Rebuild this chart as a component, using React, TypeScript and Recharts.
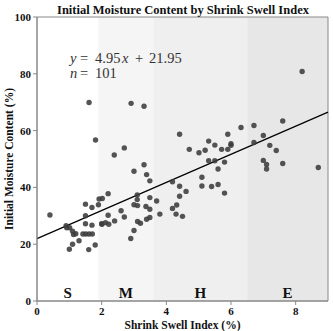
import React from 'react';
import {
  ScatterChart,
  Scatter,
  XAxis,
  YAxis,
  ReferenceArea,
  ReferenceLine,
} from 'recharts';

// shrink swell index (%) vs initial moisture content (%)
const swellIndex = [
  0.4, 0.9, 0.92, 1.01, 1.0, 1.1, 1.1, 1.2, 1.13, 1.3, 1.42, 1.51, 1.61, 1.71, 1.5, 1.5, 1.5, 1.6, 1.7, 1.7, 1.8, 1.61, 1.81,
  1.92, 2.02, 1.9, 2.0, 2.01, 2.12, 2.22, 2.2, 2.2, 2.4, 2.39, 2.6, 2.7, 2.7, 2.9, 2.91, 3.0, 3.0, 3.0, 3.11, 3.1, 3.1, 3.11,
  3.2, 3.31, 3.31, 3.39, 3.49, 3.49, 3.37, 3.49, 3.49, 3.39,
  3.7, 3.8, 4.19, 4.41, 4.41, 4.41, 4.61, 4.32, 4.19, 4.3, 4.5, 4.71, 5.01, 5.2, 5.1, 5.1, 5.31, 5.31, 5.4, 5.5, 5.5, 5.6,
  5.6, 5.71, 5.8, 5.8, 5.9, 5.9, 6.0, 6.0, 6.31,
  6.71, 6.71, 7.0, 7.0, 7.1, 7.1, 7.2, 7.4, 7.6, 7.6, 8.2, 8.7,
];
const moisture = [
  30.3, 26.5, 25.8, 25.8, 18.2, 20.0, 24.6, 23.7, 23.4, 21.2, 23.6, 23.6, 23.6, 23.6, 27.2, 30.0, 34.1, 18.1, 26.7, 32.9, 19.7, 69.9, 56.7,
  35.9, 36.1, 33.9, 27.2, 27.0, 27.6, 27.0, 30.2, 37.8, 28.2, 51.4, 31.8, 29.6, 53.9, 22.0, 69.6, 24.8, 45.7, 33.9, 33.6, 37.3, 35.7, 28.0,
  27.4, 68.6, 48.0, 44.5, 42.3, 36.4, 33.3, 32.3, 29.4, 28.8,
  35.2, 30.6, 42.0, 58.7, 40.4, 36.9, 38.6, 33.8, 32.6, 30.6, 29.8, 53.4, 52.2, 53.1, 43.6, 40.5, 56.3, 49.4, 40.3, 54.9, 49.4, 46.5,
  41.0, 53.4, 48.9, 38.0, 58.7, 53.4, 55.4, 54.8, 61.1,
  61.8, 55.8, 58.3, 49.5, 48.1, 46.5, 54.8, 53.0, 63.4, 48.4, 80.8, 47.0,
];

const classNames = ['S', 'M', 'H', 'E'];
const classEdges = [0, 1.9, 3.6, 6.5, 9];
const classFills = ['#ffffff', '#f5f5f5', '#efefef', '#e7e7e7'];

const xTicks = [0, 2, 4, 6, 8];
const yTicks = [0, 20, 40, 60, 80, 100];

const slope = 4.95;
const intercept = 21.95;
const sampleCount = 101;

const points = swellIndex.map((x, i) => ({ x, y: moisture[i] }));
const fitLine = [
  { x: 0, y: intercept },
  { x: 9, y: intercept + slope * 9 },
];

const serif = 'Liberation Serif';
const axisGrey = '#888888';

const Dot = (props: any) => (
  <circle cx={props.cx} cy={props.cy} r={2.7} fill="#3c3c3c" fillOpacity={0.88} />
);

export default function App() {
  return (
    <div style={{ position: 'absolute', left: 0, top: 0, width: 333, height: 331, background: '#fff' }}>
      <ScatterChart width={333} height={331} margin={{ top: 17, right: 5, left: 0, bottom: 0 }}>
        {classNames.map((name, i) => (
          <ReferenceArea
            key={name}
            x1={classEdges[i]}
            x2={classEdges[i + 1]}
            y1={0}
            y2={100}
            fill={classFills[i]}
            fillOpacity={1}
            stroke="none"
            label={{
              value: name,
              position: 'insideBottom',
              offset: 3,
              style: { fontFamily: serif, fontWeight: 'bold', fontSize: 15, fill: '#111' },
            }}
          />
        ))}
        <XAxis
          type="number"
          dataKey="x"
          domain={[0, 9]}
          ticks={xTicks}
          height={30}
          stroke={axisGrey}
          tickSize={4}
          tick={{ fontFamily: serif, fontWeight: 'bold', fontSize: 11, fill: '#111' }}
          label={{
            value: 'Shrink Swell Index (%)',
            position: 'insideBottom',
            offset: 2,
            style: { fontFamily: serif, fontWeight: 'bold', fontSize: 11.5, fill: '#111' },
          }}
        />
        <YAxis
          type="number"
          dataKey="y"
          domain={[0, 100]}
          ticks={yTicks}
          width={37}
          stroke={axisGrey}
          tickSize={4}
          tick={{ fontFamily: serif, fontWeight: 'bold', fontSize: 11, fill: '#111' }}
          label={{
            value: 'Initial Moisture Content (%)',
            angle: -90,
            position: 'insideLeft',
            offset: 9,
            style: { fontFamily: serif, fontWeight: 'bold', fontSize: 11.5, fill: '#111', textAnchor: 'middle' },
          }}
        />
        <ReferenceArea x1={0} x2={9} y1={0} y2={100} fill="none" stroke={axisGrey} strokeWidth={1} />
        <ReferenceLine segment={fitLine} stroke="#000" strokeWidth={1.2} />
        <Scatter data={points} shape={Dot} isAnimationActive={false} />
      </ScatterChart>
      <svg
        width={333}
        height={331}
        style={{ position: 'absolute', left: 0, top: 0, pointerEvents: 'none' }}
      >
        <text
          x={183}
          y={14}
          textAnchor="middle"
          fontFamily={serif}
          fontWeight="bold"
          fontSize={12.5}
          fill="#111"
        >
          Initial Moisture Content by Shrink Swell Index
        </text>
        <g fontFamily={serif} fontSize={14.5} fill="#333">
          <text y={63}>
            <tspan x={70} fontStyle="italic">y</tspan>
            <tspan x={80}>=</tspan>
            <tspan x={95}>{slope}</tspan>
            <tspan x={122} fontStyle="italic">x</tspan>
            <tspan x={135}>+</tspan>
            <tspan x={149}>{intercept}</tspan>
          </text>
          <text y={78}>
            <tspan x={70} fontStyle="italic">n</tspan>
            <tspan x={80}>=</tspan>
            <tspan x={95}>{sampleCount}</tspan>
          </text>
        </g>
      </svg>
    </div>
  );
}
